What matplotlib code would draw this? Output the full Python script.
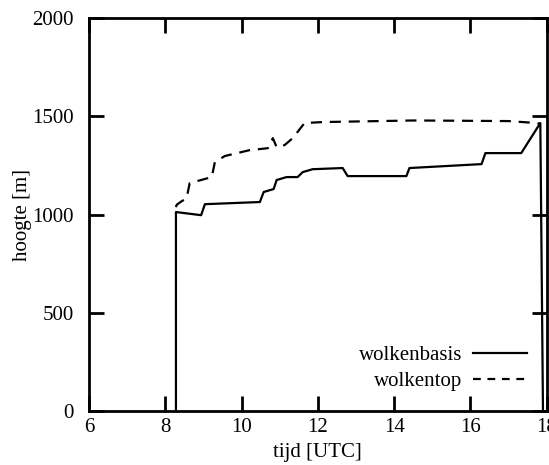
import matplotlib
matplotlib.use("Agg")
from matplotlib import pyplot as plt

# wolkenbasis (cloud base)
basis_t = [8.28, 8.28, 8.94, 9.04, 10.48, 10.58, 10.84, 10.92, 11.18, 11.47, 11.6,
           11.86, 12.65, 12.78, 14.32, 14.4, 16.29, 16.39, 17.33, 17.83, 17.9]
basis_h = [0, 1013, 997, 1053, 1064, 1115, 1130, 1176, 1191, 1191, 1216,
           1231, 1237, 1196, 1196, 1237, 1257, 1313, 1313, 1466, 0]

# wolkentop (cloud top)
top_t = [8.28, 8.3, 8.4, 8.56, 8.64, 9.22, 9.3, 9.56, 10.21, 10.69, 10.82, 10.92,
         11.13, 11.34, 11.65, 12.13, 13.0, 14.5, 15.5, 17.0, 17.73, 17.83]
top_h = [1038, 1050, 1064, 1084, 1160, 1191, 1267, 1298, 1328, 1338, 1389, 1343,
         1354, 1389, 1466, 1471, 1474, 1479, 1478, 1476, 1466, 1462]

plt.rcParams['font.family'] = ['Liberation Serif', 'DejaVu Serif']

fig = plt.figure(figsize=(5.49, 4.65), dpi=100)
ax = fig.add_axes([0.162, 0.116, 0.834, 0.845])

ax.plot(basis_t, basis_h, color='black', lw=1.6, label='wolkenbasis')
ax.plot(top_t, top_h, color='black', lw=1.6, linestyle=(0, (5, 3.5)), label='wolkentop')

ax.set_xlim(6, 18)
ax.set_ylim(0, 2000)
ax.set_xticks([6, 8, 10, 12, 14, 16, 18])
ax.set_yticks([0, 500, 1000, 1500, 2000])

for s in ax.spines.values():
    s.set_linewidth(2)
ax.tick_params(direction='in', length=11, width=2, top=True, right=True,
               labelsize=15)
ax.tick_params(axis='x', pad=5)
ax.tick_params(axis='y', pad=11)

ax.set_xlabel('tijd [UTC]', fontsize=15, labelpad=4)
ax.set_ylabel('hoogte [m]', fontsize=15)
ax.yaxis.set_label_coords(-0.125, 0.5)

leg = ax.legend(loc='lower right', bbox_to_anchor=(0.975, 0.03), frameon=False,
                markerfirst=False, fontsize=15, handlelength=2.6, handletextpad=0.5,
                labelspacing=0.3, borderaxespad=0)
# the legend sample shows three short dashes
leg.get_lines()[1].set_linestyle((0, (3.5, 3)))

fig.savefig('out.png', dpi=100)
